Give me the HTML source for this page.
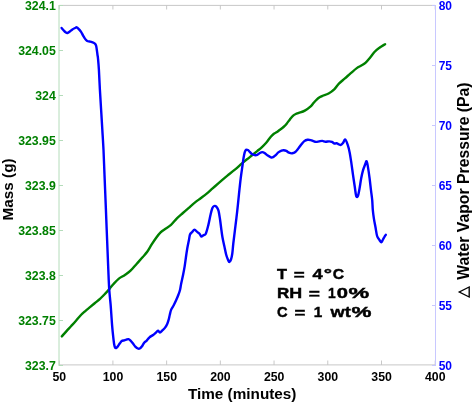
<!DOCTYPE html>
<html><head><meta charset="utf-8"><style>
html,body{margin:0;padding:0;background:#fff;}
svg{display:block;will-change:transform;}
.t{font-family:"Liberation Sans", sans-serif;font-weight:bold;font-size:12px;}
.l{font-family:"Liberation Sans", sans-serif;font-weight:bold;font-size:15.5px;fill:#000;}
.a{font-family:"Liberation Sans", sans-serif;font-weight:bold;font-size:15.5px;fill:#000;stroke:#000;stroke-width:0.45px;}
</style></head><body>
<svg width="473" height="403" viewBox="0 0 473 403">
<line x1="59" y1="5.4" x2="435" y2="5.4" stroke="#c8c8c8" stroke-width="1"/>
<line x1="59" y1="364.9" x2="435" y2="364.9" stroke="#c8c8c8" stroke-width="1"/>
<line x1="59.20" y1="5" x2="59.20" y2="9.5" stroke="#c8c8c8" stroke-width="1"/>
<line x1="59.20" y1="365" x2="59.20" y2="360.5" stroke="#c8c8c8" stroke-width="1"/>
<text x="59.30" y="381" text-anchor="middle" class="t" fill="#000" style="font-size:12.3px">50</text>
<line x1="112.91" y1="5" x2="112.91" y2="9.5" stroke="#c8c8c8" stroke-width="1"/>
<line x1="112.91" y1="365" x2="112.91" y2="360.5" stroke="#c8c8c8" stroke-width="1"/>
<text x="113.01" y="381" text-anchor="middle" class="t" fill="#000" style="font-size:12.3px">100</text>
<line x1="166.63" y1="5" x2="166.63" y2="9.5" stroke="#c8c8c8" stroke-width="1"/>
<line x1="166.63" y1="365" x2="166.63" y2="360.5" stroke="#c8c8c8" stroke-width="1"/>
<text x="166.73" y="381" text-anchor="middle" class="t" fill="#000" style="font-size:12.3px">150</text>
<line x1="220.34" y1="5" x2="220.34" y2="9.5" stroke="#c8c8c8" stroke-width="1"/>
<line x1="220.34" y1="365" x2="220.34" y2="360.5" stroke="#c8c8c8" stroke-width="1"/>
<text x="220.44" y="381" text-anchor="middle" class="t" fill="#000" style="font-size:12.3px">200</text>
<line x1="274.06" y1="5" x2="274.06" y2="9.5" stroke="#c8c8c8" stroke-width="1"/>
<line x1="274.06" y1="365" x2="274.06" y2="360.5" stroke="#c8c8c8" stroke-width="1"/>
<text x="274.16" y="381" text-anchor="middle" class="t" fill="#000" style="font-size:12.3px">250</text>
<line x1="327.77" y1="5" x2="327.77" y2="9.5" stroke="#c8c8c8" stroke-width="1"/>
<line x1="327.77" y1="365" x2="327.77" y2="360.5" stroke="#c8c8c8" stroke-width="1"/>
<text x="327.87" y="381" text-anchor="middle" class="t" fill="#000" style="font-size:12.3px">300</text>
<line x1="381.49" y1="5" x2="381.49" y2="9.5" stroke="#c8c8c8" stroke-width="1"/>
<line x1="381.49" y1="365" x2="381.49" y2="360.5" stroke="#c8c8c8" stroke-width="1"/>
<text x="381.59" y="381" text-anchor="middle" class="t" fill="#000" style="font-size:12.3px">350</text>
<line x1="435.20" y1="5" x2="435.20" y2="9.5" stroke="#c8c8c8" stroke-width="1"/>
<line x1="435.20" y1="365" x2="435.20" y2="360.5" stroke="#c8c8c8" stroke-width="1"/>
<text x="435.30" y="381" text-anchor="middle" class="t" fill="#000" style="font-size:12.3px">400</text>
<line x1="59" y1="5" x2="59" y2="366" stroke="#b4dcba" stroke-width="1"/>
<line x1="59" y1="365.5" x2="63" y2="365.5" stroke="#b4dcba" stroke-width="1"/>
<text x="55.8" y="370.4" text-anchor="end" class="t" fill="#008000" style="font-size:12.3px">323.7</text>
<line x1="59" y1="320.5" x2="63" y2="320.5" stroke="#b4dcba" stroke-width="1"/>
<text x="55.8" y="325.4" text-anchor="end" class="t" fill="#008000" style="font-size:12.3px">323.75</text>
<line x1="59" y1="275.5" x2="63" y2="275.5" stroke="#b4dcba" stroke-width="1"/>
<text x="55.8" y="280.4" text-anchor="end" class="t" fill="#008000" style="font-size:12.3px">323.8</text>
<line x1="59" y1="230.5" x2="63" y2="230.5" stroke="#b4dcba" stroke-width="1"/>
<text x="55.8" y="235.4" text-anchor="end" class="t" fill="#008000" style="font-size:12.3px">323.85</text>
<line x1="59" y1="185.5" x2="63" y2="185.5" stroke="#b4dcba" stroke-width="1"/>
<text x="55.8" y="190.4" text-anchor="end" class="t" fill="#008000" style="font-size:12.3px">323.9</text>
<line x1="59" y1="140.5" x2="63" y2="140.5" stroke="#b4dcba" stroke-width="1"/>
<text x="55.8" y="145.4" text-anchor="end" class="t" fill="#008000" style="font-size:12.3px">323.95</text>
<line x1="59" y1="95.5" x2="63" y2="95.5" stroke="#b4dcba" stroke-width="1"/>
<text x="55.8" y="100.4" text-anchor="end" class="t" fill="#008000" style="font-size:12.3px">324</text>
<line x1="59" y1="50.5" x2="63" y2="50.5" stroke="#b4dcba" stroke-width="1"/>
<text x="55.8" y="55.4" text-anchor="end" class="t" fill="#008000" style="font-size:12.3px">324.05</text>
<line x1="59" y1="5.5" x2="63" y2="5.5" stroke="#b4dcba" stroke-width="1"/>
<text x="55.8" y="10.4" text-anchor="end" class="t" fill="#008000" style="font-size:12.3px">324.1</text>
<line x1="435.5" y1="5" x2="435.5" y2="366" stroke="#c8c8ff" stroke-width="1"/>
<line x1="432" y1="365.5" x2="436" y2="365.5" stroke="#c8c8ff" stroke-width="1"/>
<text x="438.7" y="369.8" class="t" fill="#0000ff">50</text>
<line x1="432" y1="305.5" x2="436" y2="305.5" stroke="#c8c8ff" stroke-width="1"/>
<text x="438.7" y="309.8" class="t" fill="#0000ff">55</text>
<line x1="432" y1="245.5" x2="436" y2="245.5" stroke="#c8c8ff" stroke-width="1"/>
<text x="438.7" y="249.8" class="t" fill="#0000ff">60</text>
<line x1="432" y1="185.5" x2="436" y2="185.5" stroke="#c8c8ff" stroke-width="1"/>
<text x="438.7" y="189.8" class="t" fill="#0000ff">65</text>
<line x1="432" y1="125.5" x2="436" y2="125.5" stroke="#c8c8ff" stroke-width="1"/>
<text x="438.7" y="129.8" class="t" fill="#0000ff">70</text>
<line x1="432" y1="65.5" x2="436" y2="65.5" stroke="#c8c8ff" stroke-width="1"/>
<text x="438.7" y="69.8" class="t" fill="#0000ff">75</text>
<line x1="432" y1="5.5" x2="436" y2="5.5" stroke="#c8c8ff" stroke-width="1"/>
<text x="438.7" y="9.8" class="t" fill="#0000ff">80</text>
<path d="M61.80,336.40 C62.58,335.52 64.93,332.83 66.50,331.10 C68.07,329.37 69.62,327.73 71.20,326.00 C72.78,324.27 74.45,322.45 76.00,320.70 C77.55,318.95 79.00,317.07 80.50,315.50 C82.00,313.93 83.42,312.70 85.00,311.30 C86.58,309.90 88.33,308.48 90.00,307.10 C91.67,305.72 93.33,304.37 95.00,303.00 C96.67,301.63 98.52,300.23 100.00,298.90 C101.48,297.57 102.72,296.22 103.90,295.00 C105.08,293.78 106.08,292.73 107.10,291.60 C108.12,290.47 108.93,289.47 110.00,288.20 C111.07,286.93 112.02,285.60 113.50,284.00 C114.98,282.40 117.00,280.12 118.90,278.60 C120.80,277.08 122.92,276.27 124.90,274.90 C126.88,273.53 128.82,272.27 130.80,270.40 C132.78,268.53 134.80,265.93 136.80,263.70 C138.80,261.47 141.07,258.98 142.80,257.00 C144.53,255.02 145.72,253.90 147.20,251.80 C148.68,249.70 150.20,246.75 151.70,244.40 C153.20,242.05 154.72,239.70 156.20,237.70 C157.68,235.70 159.12,233.85 160.60,232.40 C162.08,230.95 163.37,230.25 165.10,229.00 C166.83,227.75 169.03,226.67 171.00,224.90 C172.97,223.13 174.92,220.38 176.90,218.40 C178.88,216.42 180.92,214.77 182.90,213.00 C184.88,211.23 186.82,209.53 188.80,207.80 C190.78,206.07 192.82,204.20 194.80,202.60 C196.78,201.00 198.72,199.70 200.70,198.20 C202.68,196.70 204.72,195.23 206.70,193.60 C208.68,191.97 210.62,190.13 212.60,188.40 C214.58,186.67 216.78,184.78 218.60,183.20 C220.42,181.62 222.03,180.17 223.50,178.90 C224.97,177.63 225.50,177.13 227.40,175.60 C229.30,174.07 232.42,171.78 234.90,169.70 C237.38,167.62 239.82,165.20 242.30,163.10 C244.78,161.00 247.32,159.10 249.80,157.10 C252.28,155.10 255.22,152.73 257.20,151.10 C259.18,149.47 260.20,148.70 261.70,147.30 C263.20,145.90 264.72,144.42 266.20,142.70 C267.68,140.98 269.37,138.45 270.60,137.00 C271.83,135.55 272.62,134.78 273.60,134.00 C274.58,133.22 275.50,132.97 276.50,132.30 C277.50,131.63 278.43,130.88 279.60,130.00 C280.77,129.12 282.28,128.10 283.50,127.00 C284.72,125.90 285.83,124.67 286.90,123.40 C287.97,122.13 288.90,120.65 289.90,119.40 C290.90,118.15 291.92,116.80 292.90,115.90 C293.88,115.00 294.82,114.50 295.80,114.00 C296.78,113.50 297.30,113.47 298.80,112.90 C300.30,112.33 302.82,111.70 304.80,110.60 C306.78,109.50 309.22,107.60 310.70,106.30 C312.18,105.00 312.70,103.92 313.70,102.80 C314.70,101.68 315.72,100.52 316.70,99.60 C317.68,98.68 318.62,97.93 319.60,97.30 C320.58,96.67 321.10,96.43 322.60,95.80 C324.10,95.17 326.62,94.62 328.60,93.50 C330.58,92.38 332.78,90.75 334.50,89.10 C336.22,87.45 337.17,85.38 338.90,83.60 C340.63,81.82 342.92,80.13 344.90,78.40 C346.88,76.67 348.82,74.92 350.80,73.20 C352.78,71.48 355.05,69.37 356.80,68.10 C358.55,66.83 359.82,66.52 361.30,65.60 C362.78,64.68 364.22,63.95 365.70,62.60 C367.18,61.25 368.70,59.30 370.20,57.50 C371.70,55.70 373.22,53.38 374.70,51.80 C376.18,50.22 377.37,49.27 379.10,48.00 C380.83,46.73 384.10,44.83 385.10,44.20" fill="none" stroke="#008000" stroke-width="2.4" stroke-linejoin="round" stroke-linecap="round"/>
<path d="M61.60,28.00 C61.92,28.37 62.83,29.48 63.50,30.20 C64.17,30.92 64.93,31.83 65.60,32.30 C66.27,32.77 66.80,33.13 67.50,33.00 C68.20,32.87 68.98,32.10 69.80,31.50 C70.62,30.90 71.52,29.98 72.40,29.40 C73.28,28.82 74.38,28.35 75.10,28.00 C75.82,27.65 76.08,27.12 76.70,27.30 C77.32,27.48 78.10,28.37 78.80,29.10 C79.50,29.83 80.20,30.65 80.90,31.70 C81.60,32.75 82.30,34.20 83.00,35.40 C83.70,36.60 84.40,37.97 85.10,38.90 C85.80,39.83 86.48,40.57 87.20,41.00 C87.92,41.43 88.60,41.32 89.40,41.50 C90.20,41.68 91.13,41.78 92.00,42.10 C92.87,42.42 93.93,42.87 94.60,43.40 C95.27,43.93 95.63,44.25 96.00,45.30 C96.37,46.35 96.55,48.08 96.80,49.70 C97.05,51.32 97.30,53.53 97.50,55.00 C97.70,56.47 97.77,56.03 98.00,58.50 C98.23,60.97 98.58,64.60 98.90,69.80 C99.22,75.00 99.53,83.08 99.90,89.70 C100.27,96.32 100.70,102.88 101.10,109.50 C101.50,116.12 101.90,122.68 102.30,129.40 C102.70,136.12 103.17,143.08 103.50,149.80 C103.83,156.52 104.03,163.08 104.30,169.70 C104.57,176.32 104.83,182.88 105.10,189.50 C105.37,196.12 105.63,202.68 105.90,209.40 C106.17,216.12 106.43,223.08 106.70,229.80 C106.97,236.52 107.23,243.08 107.50,249.70 C107.77,256.32 108.02,262.95 108.30,269.50 C108.58,276.05 108.82,283.18 109.20,289.00 C109.58,294.82 110.25,300.23 110.60,304.40 C110.95,308.57 111.05,310.52 111.30,314.00 C111.55,317.48 111.78,321.53 112.10,325.30 C112.42,329.07 112.85,333.40 113.20,336.60 C113.55,339.80 113.87,342.63 114.20,344.50 C114.53,346.37 114.82,347.25 115.20,347.80 C115.58,348.35 116.05,348.05 116.50,347.80 C116.95,347.55 117.33,347.05 117.90,346.30 C118.47,345.55 119.27,344.18 119.90,343.30 C120.53,342.42 120.95,341.50 121.70,341.00 C122.45,340.50 123.62,340.53 124.40,340.30 C125.18,340.07 125.73,339.80 126.40,339.60 C127.07,339.40 127.75,338.98 128.40,339.10 C129.05,339.22 129.57,339.60 130.30,340.30 C131.03,341.00 131.97,342.25 132.80,343.30 C133.63,344.35 134.47,345.73 135.30,346.60 C136.13,347.47 137.05,348.18 137.80,348.50 C138.55,348.82 139.13,348.82 139.80,348.50 C140.47,348.18 141.07,347.55 141.80,346.60 C142.53,345.65 143.38,343.80 144.20,342.80 C145.02,341.80 145.82,341.52 146.70,340.60 C147.58,339.68 148.43,338.23 149.50,337.30 C150.57,336.37 152.08,335.73 153.10,335.00 C154.12,334.27 154.78,333.62 155.60,332.90 C156.42,332.18 157.28,330.77 158.00,330.70 C158.72,330.63 159.17,332.55 159.90,332.50 C160.63,332.45 161.57,331.17 162.40,330.40 C163.23,329.63 164.12,328.93 164.90,327.90 C165.68,326.87 166.48,325.55 167.10,324.20 C167.72,322.85 168.15,321.37 168.60,319.80 C169.05,318.23 169.38,316.45 169.80,314.80 C170.22,313.15 170.47,311.45 171.10,309.90 C171.73,308.35 172.77,307.10 173.60,305.50 C174.43,303.90 175.28,302.13 176.10,300.30 C176.92,298.47 177.85,296.22 178.50,294.50 C179.15,292.78 179.55,291.83 180.00,290.00 C180.45,288.17 180.68,286.03 181.20,283.50 C181.72,280.97 182.52,277.70 183.10,274.80 C183.68,271.90 184.23,268.98 184.70,266.10 C185.17,263.22 185.47,260.48 185.90,257.50 C186.33,254.52 186.80,251.08 187.30,248.20 C187.80,245.32 188.45,242.48 188.90,240.20 C189.35,237.92 189.47,235.85 190.00,234.50 C190.53,233.15 191.35,232.90 192.10,232.10 C192.85,231.30 193.62,229.70 194.50,229.70 C195.38,229.70 196.53,231.38 197.40,232.10 C198.27,232.82 199.05,233.25 199.70,234.00 C200.35,234.75 200.68,236.38 201.30,236.60 C201.92,236.82 202.65,235.78 203.40,235.30 C204.15,234.82 205.00,235.32 205.80,233.70 C206.60,232.08 207.40,228.82 208.20,225.60 C209.00,222.38 209.92,217.30 210.60,214.40 C211.28,211.50 211.70,209.60 212.30,208.20 C212.90,206.80 213.53,206.27 214.20,206.00 C214.87,205.73 215.60,205.88 216.30,206.60 C217.00,207.32 217.78,208.20 218.40,210.30 C219.02,212.40 219.50,215.92 220.00,219.20 C220.50,222.48 220.98,226.95 221.40,230.00 C221.82,233.05 222.02,234.82 222.50,237.50 C222.98,240.18 223.68,243.22 224.30,246.10 C224.92,248.98 225.58,252.52 226.20,254.80 C226.82,257.08 227.48,258.60 228.00,259.80 C228.52,261.00 228.80,262.05 229.30,262.00 C229.80,261.95 230.50,260.92 231.00,259.50 C231.50,258.08 231.92,256.17 232.30,253.50 C232.68,250.83 232.87,247.35 233.30,243.50 C233.73,239.65 234.27,235.62 234.90,230.40 C235.53,225.18 236.42,218.28 237.10,212.20 C237.78,206.12 238.40,199.55 239.00,193.90 C239.60,188.25 240.12,183.03 240.70,178.30 C241.28,173.57 242.03,168.83 242.50,165.50 C242.97,162.17 243.13,160.48 243.50,158.30 C243.87,156.12 244.27,153.82 244.70,152.40 C245.13,150.98 245.57,150.20 246.10,149.80 C246.63,149.40 247.28,149.65 247.90,150.00 C248.52,150.35 249.13,151.23 249.80,151.90 C250.47,152.57 251.10,153.47 251.90,154.00 C252.70,154.53 253.72,154.95 254.60,155.10 C255.48,155.25 256.33,155.25 257.20,154.90 C258.07,154.55 258.95,153.47 259.80,153.00 C260.65,152.53 261.50,152.10 262.30,152.10 C263.10,152.10 263.68,152.42 264.60,153.00 C265.52,153.58 266.75,154.87 267.80,155.60 C268.85,156.33 270.02,157.13 270.90,157.40 C271.78,157.67 272.30,157.58 273.10,157.20 C273.90,156.82 274.83,155.90 275.70,155.10 C276.57,154.30 277.33,153.15 278.30,152.40 C279.27,151.65 280.60,150.97 281.50,150.60 C282.40,150.23 282.90,150.15 283.70,150.20 C284.50,150.25 285.42,150.48 286.30,150.90 C287.18,151.32 288.02,152.30 289.00,152.70 C289.98,153.10 291.15,153.42 292.20,153.30 C293.25,153.18 294.25,152.83 295.30,152.00 C296.35,151.17 297.43,149.63 298.50,148.30 C299.57,146.97 300.73,145.20 301.70,144.00 C302.67,142.80 303.33,141.80 304.30,141.10 C305.27,140.40 306.43,139.97 307.50,139.80 C308.57,139.63 309.73,139.88 310.70,140.10 C311.67,140.32 312.43,140.80 313.30,141.10 C314.17,141.40 314.93,141.85 315.90,141.90 C316.87,141.95 318.03,141.57 319.10,141.40 C320.17,141.23 321.23,140.85 322.30,140.90 C323.37,140.95 324.35,141.62 325.50,141.70 C326.65,141.78 328.13,141.37 329.20,141.40 C330.27,141.43 331.02,141.55 331.90,141.90 C332.78,142.25 333.72,143.28 334.50,143.50 C335.28,143.72 335.90,143.07 336.60,143.20 C337.30,143.33 337.98,144.02 338.70,144.30 C339.42,144.58 340.18,145.12 340.90,144.90 C341.62,144.68 342.27,143.90 343.00,143.00 C343.73,142.10 344.50,139.13 345.30,139.50 C346.10,139.87 347.08,143.08 347.80,145.20 C348.52,147.32 349.02,149.30 349.60,152.20 C350.18,155.10 350.73,158.83 351.30,162.60 C351.87,166.37 352.42,170.73 353.00,174.80 C353.58,178.87 354.27,183.47 354.80,187.00 C355.33,190.53 355.68,194.50 356.20,196.00 C356.72,197.50 357.35,197.22 357.90,196.00 C358.45,194.78 358.95,191.65 359.50,188.70 C360.05,185.75 360.62,181.35 361.20,178.30 C361.78,175.25 362.33,172.73 363.00,170.40 C363.67,168.07 364.60,165.83 365.20,164.30 C365.80,162.77 366.17,160.90 366.60,161.20 C367.03,161.50 367.30,163.25 367.80,166.10 C368.30,168.95 369.07,174.25 369.60,178.30 C370.13,182.35 370.57,186.78 371.00,190.40 C371.43,194.02 371.90,196.75 372.20,200.00 C372.50,203.25 372.52,206.80 372.80,209.90 C373.08,213.00 373.45,215.70 373.90,218.60 C374.35,221.50 374.97,224.40 375.50,227.30 C376.03,230.20 376.47,233.92 377.10,236.00 C377.73,238.08 378.58,238.77 379.30,239.80 C380.02,240.83 380.78,242.25 381.40,242.20 C382.02,242.15 382.47,240.43 383.00,239.50 C383.53,238.57 384.13,237.38 384.60,236.60 C385.07,235.82 385.60,235.10 385.80,234.80" fill="none" stroke="#0000ff" stroke-width="2.4" stroke-linejoin="round" stroke-linecap="round"/>
<text x="242.2" y="398.6" text-anchor="middle" class="l" style="font-size:15.3px">Time (minutes)</text>
<text transform="translate(12.7,189.4) rotate(-90)" text-anchor="middle" class="l" style="font-size:15.3px">Mass (g)</text>
<text transform="translate(468.6,279.7) rotate(-90)" class="l" style="font-size:15.76px">Water Vapor Pressure (Pa)</text>
<path d="M469.2,287.0 L469.2,297.0 L459.3,292.0 Z" fill="none" stroke="#000" stroke-width="1.35" stroke-linejoin="miter"/>
<text transform="translate(277.07,279.0) scale(1.052,1)" class="a">T</text>
<text transform="translate(293.87,279.7) scale(1.209,1)" class="a">=</text>
<text transform="translate(312.47,279.0) scale(1.180,1)" class="a">4</text>
<text transform="translate(323.64,279.0) scale(1.340,1)" class="a">°</text>
<text transform="translate(332.80,279.0) scale(1.016,1)" class="a">C</text>
<text transform="translate(276.91,298.1) scale(1.098,1)" class="a">R</text>
<text transform="translate(289.16,298.1) scale(1.152,1)" class="a">H</text>
<text transform="translate(308.86,298.8) scale(1.235,1)" class="a">=</text>
<text transform="translate(328.08,298.1) scale(0.887,1)" class="a">1</text>
<text transform="translate(336.65,298.1) scale(1.302,1)" class="a">0</text>
<text transform="translate(348.57,298.1) scale(1.501,1)" class="a">%</text>
<text transform="translate(277.05,317.4) scale(0.947,1)" class="a">C</text>
<text transform="translate(294.58,318.09999999999997) scale(1.196,1)" class="a">=</text>
<text transform="translate(313.79,317.4) scale(0.984,1)" class="a">1</text>
<text transform="translate(330.40,317.4) scale(1.170,1)" class="a">w</text>
<text transform="translate(344.83,317.4) scale(1.171,1)" class="a">t</text>
<text transform="translate(351.59,317.4) scale(1.448,1)" class="a">%</text>
</svg>
</body></html>
